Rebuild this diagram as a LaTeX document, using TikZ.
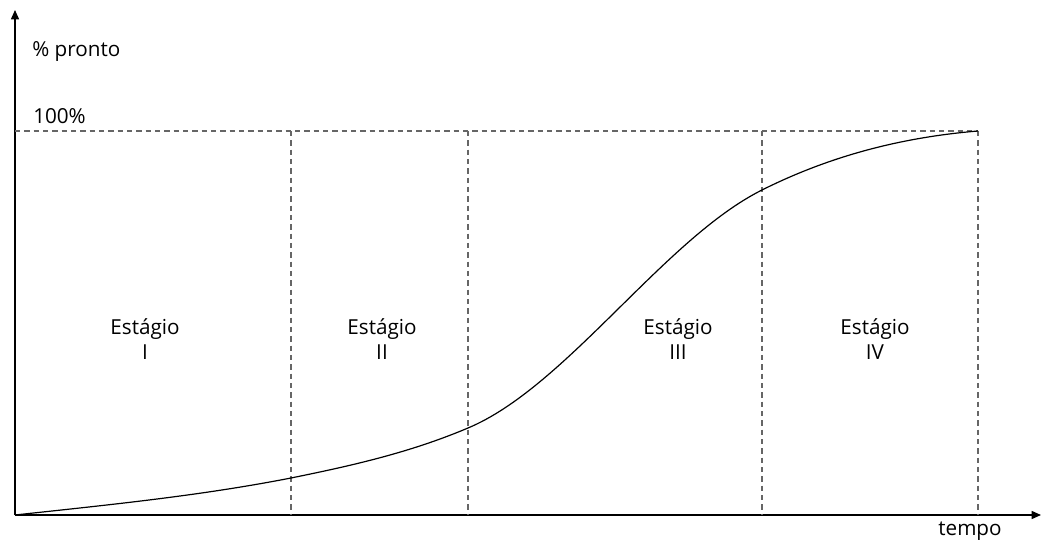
\documentclass[tikz,border=0pt]{standalone}
\usepackage{fontspec}
\setmainfont{Open Sans}
\usetikzlibrary{arrows.meta}
\usetikzlibrary{positioning}

\tikzset{
  axis/.style={line width=1.1pt, -{Triangle[length=7pt,width=6pt]}},
  guide/.style={gray!80!black, line width=0.9pt, dash pattern=on 4pt off 3pt},
  stagelabel/.style={align=center, font=\fontsize{15.5}{19}\selectfont, inner sep=0pt},
  axislabel/.style={anchor=west, font=\fontsize{15.5}{17}\selectfont, inner sep=0pt}
}

\begin{document}
\begin{tikzpicture}[x=0.75pt, y=-0.75pt]
  \useasboundingbox (0,0) rectangle (1045,541);
  % axes
  \coordinate (origin) at (15,515);
  \coordinate (ytip) at (15,10);
  \coordinate (xtip) at (1041,515);
  \draw [axis] (origin) -- (ytip);
  \draw [axis] (origin) -- (xtip);
  \node at (32,52) [axislabel] (ylabel) {\% pronto};
  \node at (33,116) [axislabel] (toplabel) {100\%};
  \node at (970,531) [font=\fontsize{15.5}{17}\selectfont, inner sep=0pt] (xlabel) {tempo};

  % stage limits
  \coordinate (top0) at (15,131);
  \coordinate (top1) at (291,131);
  \coordinate (top2) at (468,131);
  \coordinate (top3) at (762,131);
  \coordinate (top4) at (978,131);
  \coordinate (bot1) at (291,515);
  \coordinate (bot2) at (468,515);
  \coordinate (bot3) at (762,515);
  \coordinate (bot4) at (978,515);
  \draw [guide] (top0) -- (top4);
  \foreach \i in {1,...,4}
    \draw [guide] (top\i) -- (bot\i);

  % stages
  \node at (145,339) [stagelabel] (stage1) {Estágio\\I};
  \node at (382,339) [stagelabel] (stage2) {Estágio\\II};
  \node at (678,339) [stagelabel] (stage3) {Estágio\\III};
  \node at (875,339) [stagelabel] (stage4) {Estágio\\IV};

  % growth curve
  \draw [line width=0.9pt] (origin)
    .. controls (107,505) and (199,496) .. (291,478)
    .. controls (350,466) and (409,453) .. (468,428)
    .. controls (566,387) and (664,239) .. (762,190)
    .. controls (834,154) and (906,137) .. (top4);
\end{tikzpicture}
\end{document}
